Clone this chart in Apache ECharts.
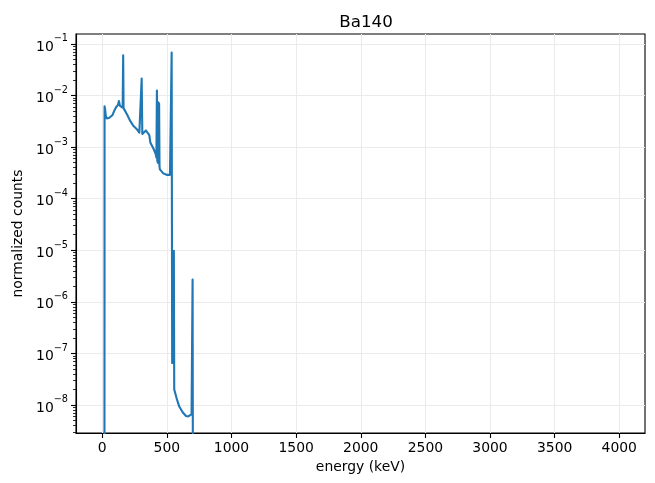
<!DOCTYPE html>
<html>
<head>
<meta charset="utf-8">
<script src="https://cdn.jsdelivr.net/npm/echarts@6/dist/echarts.min.js"></script>
<style>
html,body{margin:0;padding:0;background:#fff;}
#chart{width:655px;height:483px;}
</style>
</head>
<body>
<div id="chart"></div>
<script>
// energy (keV) of each sample
var energy = [0, 17, 18, 22, 28, 35, 45, 55, 65, 80, 95, 108, 116, 122, 129, 137, 145, 152, 158, 162, 165,
  176, 194, 214, 240, 266, 287, 300, 305, 310, 318, 338, 353, 364, 372, 395, 413, 419,
  423, 426, 430, 434, 437, 440, 443, 446, 472, 498, 524, 532, 537, 541, 548, 551, 554, 557,
  575, 596, 622, 648, 665, 679, 691, 696, 699, 703, 706, 4000];
// normalized counts (1e-12 stands for zero counts, below the axis floor)
var counts = [1e-12, 1e-12, 6.2e-3, 5.4e-3, 4.0e-3, 3.6e-3, 3.8e-3, 3.7e-3, 3.9e-3, 4.2e-3, 5.2e-3, 6.0e-3, 6.2e-3, 6.6e-3, 7.8e-3, 6.3e-3, 6.6e-3, 6.1e-3, 5.8e-3, 0.060, 5.7e-3,
  5.3e-3, 4.2e-3, 3.3e-3, 2.6e-3, 2.25e-3, 1.9e-3, 1.8e-3, 0.0213, 1.8e-3, 1.8e-3, 2.1e-3, 2.15e-3, 1.7e-3, 1.23e-3, 9.5e-4, 7.4e-4, 6.3e-4,
  0.0125, 5.5e-4, 5.0e-4, 7.4e-3, 4.8e-4, 7.0e-3, 4.2e-4, 3.7e-4, 3.1e-4, 2.9e-4, 2.9e-4, 2.9e-4, 0.068, 6.5e-8, 9.4e-6, 6.5e-8, 9.8e-6, 2.0e-8,
  1.36e-8, 9.3e-9, 7.2e-9, 6.1e-9, 6.0e-9, 6.3e-9, 6.6e-9, 7.0e-9, 2.7e-6, 1e-12, 1e-12, 1e-12];

var xTicks = [0, 500, 1000, 1500, 2000, 2500, 3000, 3500, 4000];
var yMajor = [1e-8, 1e-7, 1e-6, 1e-5, 1e-4, 1e-3, 1e-2, 1e-1];
var yMinor = [];
for (var e = -9; e <= -1; e++) {
  for (var k = 2; k <= 9; k++) {
    var v = k * Math.pow(10, e);
    if (v >= 2.86e-9 && v <= 0.156) yMinor.push(v);
  }
}

var data = energy.map(function (x, i) { return [x, counts[i]]; });

var FONT = 'DejaVu Sans';
var chart = echarts.init(document.getElementById('chart'), null, {renderer: 'canvas'});
chart.setOption({
  animation: false,
  backgroundColor: '#fff',
  title: {
    text: 'Ba140',
    left: 361,
    top: 9,
    textAlign: 'center',
    textStyle: {fontFamily: FONT, fontSize: 16.7, fontWeight: 'normal', color: '#000'}
  },
  grid: {left: 76, right: 10, top: 34, bottom: 50, show: true, borderColor: '#000', borderWidth: 1.1, backgroundColor: 'transparent'},
  xAxis: {
    type: 'value', min: -203, max: 4199,
    name: 'energy (keV)', nameLocation: 'middle', nameGap: 27,
    nameTextStyle: {fontFamily: FONT, fontSize: 13.9, color: '#000'},
    axisLine: {show: true, onZero: false, lineStyle: {color: '#000', width: 1.1}},
    axisTick: {show: true, length: 5, customValues: xTicks, lineStyle: {color: '#000', width: 1.1}},
    axisLabel: {customValues: xTicks, margin: 8, fontFamily: FONT, fontSize: 13.9, color: '#000',
      formatter: function (val) { return String(val); }},
    splitLine: {show: true, lineStyle: {color: '#ebebeb', width: 1.1}}
  },
  yAxis: [{
    type: 'log', logBase: 10, min: 2.86e-9, max: 0.156,
    name: 'normalized counts', nameLocation: 'middle', nameGap: 50, nameRotate: 90,
    nameTextStyle: {fontFamily: FONT, fontSize: 13.9, color: '#000'},
    axisLine: {show: true, onZero: false, lineStyle: {color: '#000', width: 1.1}},
    axisTick: {show: true, length: 5, customValues: yMajor, lineStyle: {color: '#000', width: 1.1}},
    axisLabel: {
      customValues: yMajor, margin: 8,
      formatter: function (val) {
        var ex = Math.round(Math.log10(val));
        return '{b|10}{s|\u2212' + (-ex) + '}';
      },
      rich: {
        b: {fontFamily: FONT, fontSize: 13.9, color: '#000', lineHeight: 20, verticalAlign: 'bottom'},
        s: {fontFamily: FONT, fontSize: 9.7, color: '#000', lineHeight: 12, verticalAlign: 'top'}
      }
    },
    splitLine: {show: true, lineStyle: {color: '#ebebeb', width: 1.1}},
    minorTick: {show: false}
  }, {
    type: 'log', logBase: 10, min: 2.86e-9, max: 0.156, position: 'left',
    axisLine: {show: false, onZero: false},
    axisTick: {show: true, length: 3, customValues: yMinor, lineStyle: {color: '#000', width: 0.8}},
    axisLabel: {show: false},
    splitLine: {show: false}
  }],
  series: [{
    type: 'line',
    data: data,
    yAxisIndex: 0,
    showSymbol: false,
    symbol: 'none',
    clip: true,
    sampling: null,
    lineStyle: {color: '#1f77b4', width: 2.1, join: 'round', cap: 'round'},
    emphasis: {disabled: true}
  }]
});
</script>
</body>
</html>
